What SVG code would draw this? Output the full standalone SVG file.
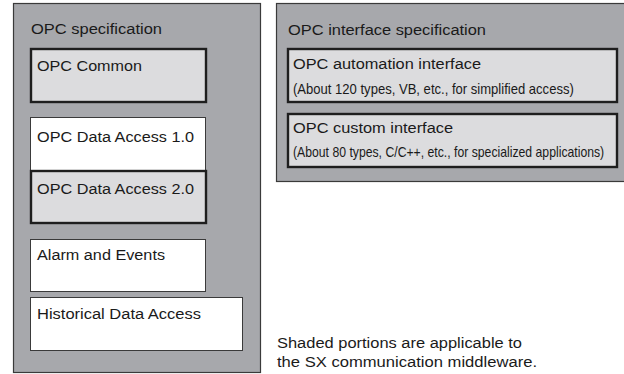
<svg xmlns="http://www.w3.org/2000/svg" width="624" height="374" viewBox="0 0 624 374">
<style>
.outer{fill:#a7a8ac;stroke:#3a3a3a;stroke-width:1.2}
.shaded{fill:#dcdcde;stroke:#1e1e1e;stroke-width:2.4}
.plain{fill:#ffffff;stroke:#3a3a3a;stroke-width:1}
text{font-family:"Liberation Sans",Arial,sans-serif;fill:#1a1a1a}
.t{font-size:15.5px}
.s{font-size:14px}
</style>
<rect width="624" height="374" fill="#ffffff"/>
<g id="opc-spec">
<rect class="outer" x="13.5" y="3.5" width="247" height="369"/>
<text class="t" x="31" y="34" textLength="131" lengthAdjust="spacingAndGlyphs">OPC specification</text>
</g>
<g id="opc-common">
<rect class="shaded" x="31" y="49" width="175" height="53"/>
<text class="t" x="37" y="71" textLength="105" lengthAdjust="spacingAndGlyphs">OPC Common</text>
</g>
<g id="opc-da1">
<rect class="plain" x="30.5" y="117.5" width="175" height="54"/>
<text class="t" x="37" y="142" textLength="157" lengthAdjust="spacingAndGlyphs">OPC Data Access 1.0</text>
</g>
<g id="opc-da2">
<rect class="shaded" x="31" y="171" width="175" height="52"/>
<text class="t" x="37" y="194" textLength="157" lengthAdjust="spacingAndGlyphs">OPC Data Access 2.0</text>
</g>
<g id="alarm">
<rect class="plain" x="30.5" y="239.5" width="175" height="52"/>
<text class="t" x="37" y="260" textLength="128" lengthAdjust="spacingAndGlyphs">Alarm and Events</text>
</g>
<g id="historical">
<rect class="plain" x="30.5" y="297.5" width="212" height="53"/>
<text class="t" x="37" y="319" textLength="164" lengthAdjust="spacingAndGlyphs">Historical Data Access</text>
</g>
<g id="opc-if-spec">
<rect class="outer" x="276.5" y="3.5" width="350" height="178"/>
<text class="t" x="288" y="35" textLength="198" lengthAdjust="spacingAndGlyphs">OPC interface specification</text>
</g>
<g id="automation">
<rect class="shaded" x="288" y="49" width="329" height="53"/>
<text class="t" x="293" y="69" textLength="188" lengthAdjust="spacingAndGlyphs">OPC automation interface</text>
<text class="s" transform="translate(293,94) scale(0.8,1)" x="0" y="0" textLength="351" lengthAdjust="spacingAndGlyphs">(About 120 types, VB, etc., for simplified access)</text>
</g>
<g id="custom">
<rect class="shaded" x="288" y="114" width="329" height="53"/>
<text class="t" x="293" y="133" textLength="160" lengthAdjust="spacingAndGlyphs">OPC custom interface</text>
<text class="s" transform="translate(293,157) scale(0.8,1)" x="0" y="0" textLength="389" lengthAdjust="spacingAndGlyphs">(About 80 types, C/C++, etc., for specialized applications)</text>
</g>
<g id="connectors"></g>
<g id="note">
<text class="t" x="277" y="348" textLength="245" lengthAdjust="spacingAndGlyphs">Shaded portions are applicable to</text>
<text class="t" x="277" y="367" textLength="260" lengthAdjust="spacingAndGlyphs">the SX communication middleware.</text>
</g>
</svg>
